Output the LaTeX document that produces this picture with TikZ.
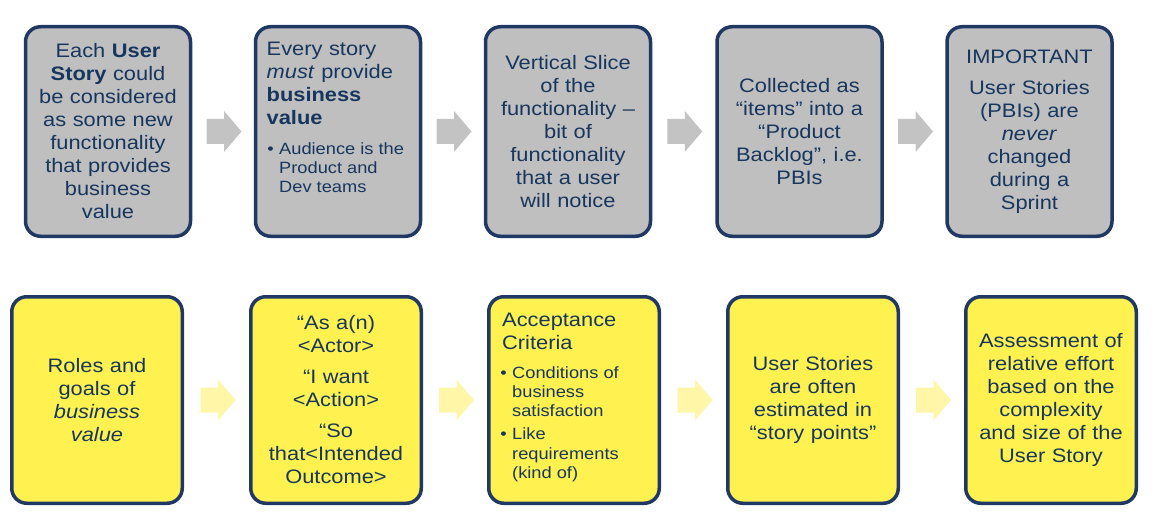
\documentclass[tikz,border=0pt]{standalone}
\usepackage{fontspec}
\setmainfont{Liberation Sans}[FakeStretch=1.12]
\usetikzlibrary{calc}

\definecolor{navy}{HTML}{1F3864}
\definecolor{inknavy}{HTML}{17365D}
\definecolor{cardgray}{HTML}{BFBFBF}
\definecolor{arrowgray}{HTML}{C3C3C3}
\definecolor{cardyellow}{HTML}{FFF250}
\definecolor{arrowyellow}{HTML}{FFF6A8}

\newcommand\cardfont{\fontsize{19.5}{23}\selectfont}
\newcommand\notefont{\fontsize{16.3}{19.3}\selectfont}
\newcommand\bul{\leavevmode\llap{\textbullet\hspace{5.5pt}}}
% bullet list set in a paragraph box with a hanging left margin
\newcommand\notelist[2]{\parbox[t]{150pt}{\raggedright\leftskip=#1\relax #2}}

\tikzset{
  card/.style={draw=navy, line width=3.5pt, rounded corners=15pt,
    outer sep=0pt, inner sep=0pt},
  topcard/.style={card, fill=cardgray, minimum width=165pt, minimum height=209.5pt},
  botcard/.style={card, fill=cardyellow, minimum width=170.5pt, minimum height=206.5pt},
  cardtext/.style={text=inknavy, inner sep=0pt, font=\cardfont,
    text width=160pt, align=center},
  headtext/.style={text=inknavy, inner sep=0pt, font=\cardfont,
    text width=150pt, align=left, anchor=north west},
  notetext/.style={text=inknavy, inner sep=0pt, font=\notefont,
    anchor=north west},
  blockarrow/.pic={
    \path[pic actions] (-17.5,-12.5) -- (0,-12.5) -- (0,-20.5) -- (17.5,0)
      -- (0,20.5) -- (0,12.5) -- (-17.5,12.5) -- cycle;
  }
}

\begin{document}
\begin{tikzpicture}[x=1pt, y=-1pt]
\useasboundingbox (0,0) rectangle (1160,524);

% ---- upper row: grey cards ----
\node[topcard] (a1) at (108,131.5) {};
\node[topcard] (a2) at (338,131.5) {};
\node[topcard] (a3) at (568,131.5) {};
\node[topcard] (a4) at (799.5,131.5) {};
\node[topcard] (a5) at (1029.5,131.5) {};

\node[cardtext] (ta1) at (a1) {Each \textbf{User}\\\textbf{Story} could\\be considered\\as some new\\functionality\\that provides\\business\\value};

\node[headtext] (ta2) at ($(a2.north west)+(11,15)$) {Every story\\\textit{must} provide\\\textbf{business}\\\textbf{value}};
\node[notetext] (na2) at ($(a2.north west)+(12.5,115.5)$) {\notelist{11pt}{\bul Audience is the\\Product and\\Dev teams}};

\node[cardtext] (ta3) at (a3) {Vertical Slice\\of the\\functionality –\\bit of\\functionality\\that a user\\will notice};

\node[cardtext] (ta4) at (a4) {Collected as\\“items” into a\\“Product\\Backlog”, i.e.\\PBIs};

\node[cardtext] (ta5) at (a5) {IMPORTANT\\[8pt]User Stories\\(PBIs) are\\\textit{never}\\changed\\during a\\Sprint};

% ---- lower row: yellow cards ----
\node[botcard] (b1) at (97,400) {};
\node[botcard] (b2) at (336,400) {};
\node[botcard] (b3) at (574,400) {};
\node[botcard] (b4) at (813,400) {};
\node[botcard] (b5) at (1051,400) {};

\node[cardtext] (tb1) at (b1) {Roles and\\goals of\\\textit{business}\\\textit{value}};

\node[cardtext] (tb2) at (b2) {“As a(n)\\<Actor>\\[8pt]“I want\\<Action>\\[8pt]“So\\that<Intended\\Outcome>};

\node[headtext] (tb3) at ($(b3.north west)+(13.25,16)$) {Acceptance\\Criteria};
\node[notetext] (nb3) at ($(b3.north west)+(13.25,69.25)$) {\notelist{10pt}{\bul Conditions of\\business\\satisfaction\\[4pt]\bul Like\\requirements\\(kind of)}};

\node[cardtext] (tb4) at (b4) {User Stories\\are often\\estimated in\\“story points”};

\node[cardtext] (tb5) at (b5) {Assessment of\\relative effort\\based on the\\complexity\\and size of the\\User Story};

% ---- block arrows between the cards ----
\foreach \p/\q in {a1/a2, a2/a3, a3/a4, a4/a5}
  \pic[fill=arrowgray] at ($(\p.east)!0.5!(\q.west)+(1,0)$) {blockarrow};
\foreach \p/\q in {b1/b2, b2/b3, b3/b4, b4/b5}
  \pic[fill=arrowyellow] at ($(\p.east)!0.5!(\q.west)+(1.5,0)$) {blockarrow};
\end{tikzpicture}
\end{document}
